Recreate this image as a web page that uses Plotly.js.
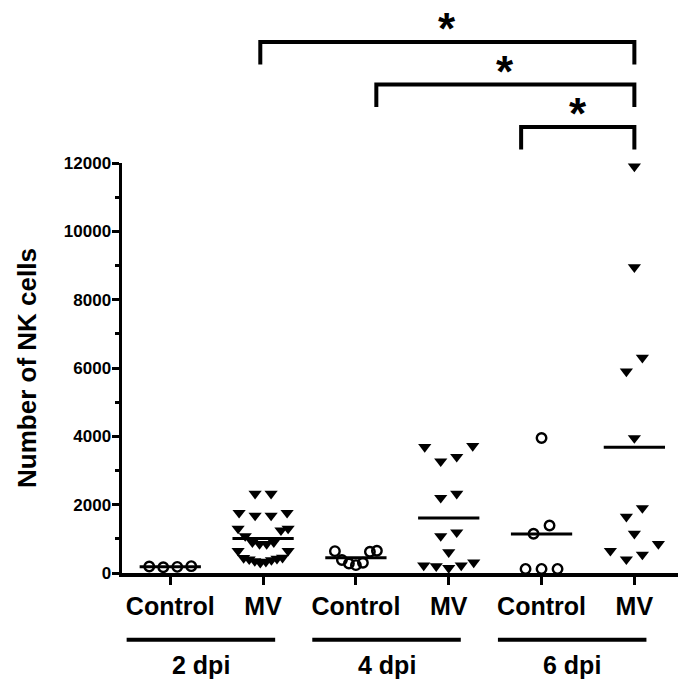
<!DOCTYPE html>
<html><head><meta charset="utf-8">
<script src="https://cdn.plot.ly/plotly-3.0.1.min.js"></script>
<style>body{margin:0;background:#fff}#chart{width:678px;height:686px}</style>
</head><body><div id="chart"></div>
<script>
// ---- data ----
const categories = ['Control', 'MV', 'Control', 'MV', 'Control', 'MV'];
const groupLabels = ['2 dpi', '4 dpi', '6 dpi'];
const ctrl2dpi = [180, 200, 190, 170];
const mv2dpi = [2320, 2320, 1680, 1760, 1760, 1680, 1300, 1250, 1300, 1080, 900, 850, 850, 900, 650, 650, 450, 420, 380, 330, 350, 400, 440, 300];
const ctrl4dpi = [650, 640, 300, 230, 280, 380, 620];
const mv4dpi = [3720, 3400, 3270, 3690, 2200, 2320, 1190, 1080, 610, 220, 310, 200, 220, 150];
const ctrl6dpi = [3950, 1390, 1150, 120, 120, 120];
const mv6dpi = [11900, 8950, 6300, 5900, 3950, 1900, 1650, 1150, 850, 650, 540, 400];
const yTickVals = [0, 2000, 4000, 6000, 8000, 10000, 12000];
const yTickText = ['0', '2000', '4000', '6000', '8000', '10000', '12000'];
// significance comparisons: left end, right end (category units), label
const bracketFrom = [3.78, 2.22, 0.97];
const bracketTo = [5, 5, 5];
const bracketText = ['*', '*', '*'];

// ---- layout geometry ----
const W = 678, H = 686;
const M = {l: 122, r: 0, t: 163, b: 113};
const plotW = W - M.l - M.r, plotH = H - M.t - M.b;
const xRange = [-0.52, 5.47];
const yRange = [0, 12000];
const pxPerX = plotW / (xRange[1] - xRange[0]);
const pxPerY = plotH / (yRange[1] - yRange[0]);
const FONT = 'Liberation Sans, Arial, sans-serif';

// scatter-dot layout: points binned into rows, each row centred on the category
function rowSwarm(vals, rowH, step, maxSpan) {
  const order = vals.map((v, i) => i).sort((a, b) => vals[a] - vals[b]);
  const rows = [];
  order.forEach(i => {
    const y = vals[i] * pxPerY;
    const cur = rows[rows.length - 1];
    if (cur && y - cur.y0 < rowH) cur.items.push(i);
    else rows.push({y0: y, items: [i]});
  });
  const off = new Array(vals.length);
  rows.forEach(r => {
    const n = r.items.length;
    const s = n > 1 ? Math.min(step, maxSpan / (n - 1)) : 0;
    r.items.forEach((idx, k) => {
      let slot;
      if (n % 2 === 1) slot = k === 0 ? 0 : (k % 2 === 1 ? -Math.ceil(k / 2) : k / 2);
      else slot = k % 2 === 0 ? -(k / 2 + 0.5) : ((k - 1) / 2 + 0.5);
      off[idx] = slot * s / pxPerX;
    });
  });
  return off;
}

const groups = [
  {vals: ctrl2dpi, sym: 'circle-open'},
  {vals: mv2dpi, sym: 'triangle-down'},
  {vals: ctrl4dpi, sym: 'circle-open'},
  {vals: mv4dpi, sym: 'triangle-down'},
  {vals: ctrl6dpi, sym: 'circle-open'},
  {vals: mv6dpi, sym: 'triangle-down'}
];

const traces = [];
groups.forEach((g, gi) => {
  const isTri = g.sym === 'triangle-down';
  const offs = rowSwarm(g.vals, 15.5, 16, isTri ? 50 : 42);
  traces.push({
    type: 'scatter', mode: 'markers', showlegend: false, cliponaxis: false,
    x: g.vals.map((v, i) => gi + offs[i]), y: g.vals,
    marker: isTri
      ? {symbol: 'triangle-down', size: 11.5, color: '#000', line: {width: 0}}
      : {symbol: 'circle-open', size: 9.5, color: '#000', line: {width: 2.4, color: '#000'}},
    hoverinfo: 'y'
  });
  const mean = g.vals.reduce((a, b) => a + b, 0) / g.vals.length;
  traces.push({
    type: 'scatter', mode: 'lines', showlegend: false, cliponaxis: false,
    x: [gi - 0.33, gi + 0.33], y: [mean, mean],
    line: {color: '#000', width: 3}, hoverinfo: 'skip'
  });
});

const shapes = [];
const annotations = [];
// group underlines + labels
const lineY = -0.163, labelY = -0.225;
groupLabels.forEach((lab, k) => {
  const x0 = 2 * k - 0.47, x1 = 2 * k + 1.13;
  shapes.push({type: 'line', xref: 'x', yref: 'paper', x0, x1, y0: lineY, y1: lineY,
    line: {color: '#000', width: 4}});
  annotations.push({xref: 'x', yref: 'paper', x: (x0 + x1) / 2, y: labelY, text: lab,
    showarrow: false, xanchor: 'center', yanchor: 'middle',
    font: {family: FONT, size: 25, weight: 'bold', color: '#000'}});
});
// significance brackets
bracketFrom.forEach((x0, k) => {
  const x1 = bracketTo[k];
  const top = 1.088 + k * 0.1035, bot = top - 0.055;
  shapes.push({type: 'path', xref: 'x', yref: 'paper',
    path: `M ${x0},${bot} L ${x0},${top} L ${x1},${top} L ${x1},${bot}`,
    line: {color: '#000', width: 4}});
  annotations.push({xref: 'x', yref: 'paper', x: (x0 + x1) / 2, y: top + 0.032, text: bracketText[k],
    showarrow: false, xanchor: 'center', yanchor: 'middle',
    font: {family: FONT, size: 44, weight: 'bold', color: '#000'}});
});

const layout = {
  width: W, height: H, margin: M,
  paper_bgcolor: '#fff', plot_bgcolor: '#fff',
  showlegend: false,
  xaxis: {
    range: xRange, showgrid: false, zeroline: false,
    showline: true, linewidth: 3.5, linecolor: '#000',
    tickvals: categories.map((c, i) => i), ticktext: categories,
    ticks: 'outside', ticklen: 8, tickwidth: 3, tickcolor: '#000',
    tickfont: {family: FONT, size: 25, weight: 'bold', color: '#000'}
  },
  yaxis: {
    range: yRange, showgrid: false, zeroline: false,
    showline: true, linewidth: 3.5, linecolor: '#000',
    tickvals: yTickVals, ticktext: yTickText,
    ticks: 'outside', ticklen: 7, tickwidth: 3, tickcolor: '#000',
    ticklabelstandoff: -3,
    minor: {dtick: 1000, ticks: 'outside', ticklen: 4, tickwidth: 3, tickcolor: '#000', showgrid: false},
    tickfont: {family: FONT, size: 17, weight: 'bold', color: '#000'},
    title: {text: 'Number of NK cells', standoff: 20,
      font: {family: FONT, size: 26, weight: 'bold', color: '#000'}}
  },
  shapes, annotations
};

Plotly.newPlot('chart', traces, layout, {displayModeBar: false, staticPlot: true});
</script>
</body></html>
